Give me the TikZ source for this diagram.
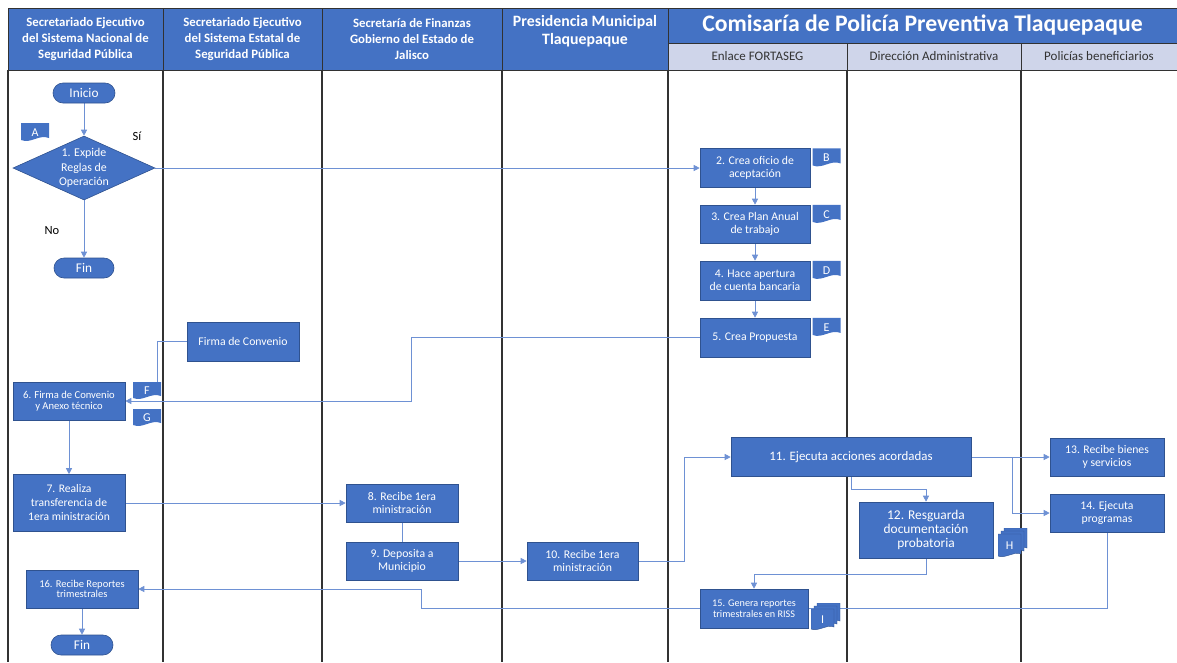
\documentclass[tikz,border=0pt]{standalone}
\usepackage{fontspec}
\setmainfont{Carlito}
\usetikzlibrary{shapes.geometric,arrows.meta,backgrounds,positioning}
\definecolor{flowblue}{RGB}{68,114,196}
\definecolor{flowedge}{RGB}{47,82,143}
\definecolor{linkblue}{RGB}{110,145,212}
\definecolor{subfill}{RGB}{207,213,234}
\definecolor{lanegray}{RGB}{50,50,50}
\tikzset{
  procbox/.style={draw=flowedge, fill=flowblue, text=white, align=center, inner sep=1pt, line width=0.6pt, font=\fontsize{11.75}{13}\selectfont},
  termbox/.style={procbox, rounded corners=10pt, minimum height=20pt, font=\fontsize{13.3}{14}\selectfont},
  decbox/.style={procbox, diamond, aspect=2.2, inner sep=0pt, minimum width=142pt, minimum height=64pt, font=\fontsize{11.9}{14.5}\selectfont},
  doctag/.style={inner sep=0pt, minimum width=28pt, minimum height=19pt, text=white, font=\fontsize{12}{12}\selectfont,
    path picture={\fill[flowblue] (path picture bounding box.north west) -- (path picture bounding box.north east)
      -- ([yshift=4pt]path picture bounding box.south east)
      .. controls ([xshift=-10pt,yshift=8pt]path picture bounding box.south east) and ([xshift=10pt,yshift=-2pt]path picture bounding box.south west)
      .. ([yshift=2pt]path picture bounding box.south west) -- cycle;}},
  multidoc/.style={inner sep=0pt, minimum width=29pt, minimum height=30pt,
    path picture={\foreach \o in {6,3,0} {\fill[flowblue, draw=flowedge, line width=0.4pt]
      ([xshift={\o pt}, yshift={(\o-6)*1pt}]path picture bounding box.north west)
      -- ([xshift={(\o-6)*1pt}, yshift={(\o-6)*1pt}]path picture bounding box.north east)
      -- ([xshift={(\o-6)*1pt}, yshift={(\o+4)*1pt}]path picture bounding box.south east)
      .. controls ([xshift={(\o-13)*1pt}, yshift={(\o+7)*1pt}]path picture bounding box.south east) and ([xshift={(\o+7)*1pt}, yshift={(\o-1)*1pt}]path picture bounding box.south west)
      .. ([xshift={\o pt}, yshift={(\o+2)*1pt}]path picture bounding box.south west) -- cycle;}}},
  mdlabel/.style={text=white, font=\fontsize{12}{12}\selectfont, xshift=-3pt, yshift=-3pt},
  lanehead/.style={draw=lanegray, line width=1pt, fill=flowblue, text=white, align=center, inner sep=0pt, font=\bfseries\fontsize{12.8}{16}\selectfont},
  subhead/.style={draw=lanegray, line width=1pt, fill=subfill, text=black!80, inner sep=0pt, font=\fontsize{13}{14}\selectfont},
  laneline/.style={draw=lanegray, line width=1.1pt},
  conn/.style={draw=linkblue, line width=0.7pt},
  arr/.style={conn, -{Triangle[length=6pt,width=6pt]}},
  answer/.style={font=\fontsize{12.5}{13}\selectfont}
}
\begin{document}
\begin{tikzpicture}[x=1pt,y=-1pt]
\newcommand{\bottomy}{662}
\useasboundingbox (0,0) rectangle (1177,662);

\node[lanehead, minimum width=155pt, minimum height=62pt] (hnac) at (85.5,39) {Secretariado Ejecutivo\\del Sistema Nacional de\\Seguridad Pública};
\node[lanehead, minimum width=159pt, minimum height=62pt] (hest) at (242.5,39) {Secretariado Ejecutivo\\del Sistema Estatal de\\Seguridad Pública};
\node[lanehead, minimum width=180pt, minimum height=62pt] (hfin) at (412,39) {Secretaría de Finanzas\\Gobierno del Estado de\\Jalisco};
\node[lanehead, minimum width=166pt, minimum height=62pt] (hpres) at (585,39) {};
\node[text=white, align=center, font=\bfseries\fontsize{15.8}{18.3}\selectfont] (hprestext) at (585,31) {Presidencia Municipal\\Tlaquepaque};
\node[lanehead, minimum width=509pt, minimum height=35pt, font=\bfseries\fontsize{23.7}{26}\selectfont] (hcom) at (922.5,25.5) {Comisaría de Policía Preventiva Tlaquepaque};
\node[subhead, minimum width=179pt, minimum height=27pt] (senl) at (757.5,56.5) {Enlace FORTASEG};
\node[subhead, minimum width=174pt, minimum height=27pt] (sdir) at (934,56.5) {Dirección Administrativa};
\node[subhead, minimum width=156pt, minimum height=27pt] (spol) at (1099,56.5) {Policías beneficiarios};

\node[termbox, minimum width=62pt] (ini) at (84,93) {Inicio};
\node[doctag] (tagA) at (35,132.5) {A};
\node[decbox] (expide) at (84,168) {1. Expide\\Reglas de\\Operación};
\node[answer] (si) at (137,136) {Sí};
\node[answer] (no) at (52,231) {No};
\node[termbox, minimum width=60pt] (fin1) at (84,268) {Fin};

\node[procbox, minimum width=110pt, minimum height=39pt] (crea) at (755,168) {2. Crea oficio de\\aceptación};
\node[doctag, anchor=north west] (tagB) at ([xshift=2pt]crea.north east) {B};
\node[procbox, minimum width=110pt, minimum height=38pt] (plan) at (755,224) {3. Crea Plan Anual\\de trabajo};
\node[doctag, anchor=north west] (tagC) at ([xshift=2pt]plan.north east) {C};
\node[procbox, minimum width=110pt, minimum height=39pt] (cuenta) at (755,280.5) {4. Hace apertura\\de cuenta bancaria};
\node[doctag, anchor=north west] (tagD) at ([xshift=2pt]cuenta.north east) {D};
\node[procbox, minimum width=110pt, minimum height=39pt] (prop) at (755,337.5) {5. Crea Propuesta};
\node[doctag, anchor=north west] (tagE) at ([xshift=2pt]prop.north east) {E};

\node[procbox, minimum width=112pt, minimum height=39pt] (firma) at (243,341.5) {Firma de Convenio};
\node[procbox, minimum width=112pt, minimum height=38pt, font=\fontsize{10.6}{11}\selectfont] (conv) at (69,401) {6. Firma de Convenio\\y Anexo técnico};
\node[doctag, minimum height=18pt] (tagF) at (147,391) {F};
\node[doctag, minimum height=18pt] (tagG) at (147,418) {G};
\node[procbox, minimum width=112pt, minimum height=57pt, font=\fontsize{11.6}{14}\selectfont] (transf) at (69,503) {7. Realiza\\transferencia de\\1era ministración};
\node[procbox, minimum width=112pt, minimum height=38pt] (recibe) at (402,503) {8. Recibe 1era\\ministración};
\node[procbox, minimum width=112pt, minimum height=38pt] (deposita) at (402,561) {9. Deposita a\\Municipio};
\node[procbox, minimum width=111pt, minimum height=38pt] (recmun) at (582.5,561) {10. Recibe 1era\\ministración};

\node[procbox, minimum width=240pt, minimum height=39pt, font=\fontsize{12.9}{14}\selectfont] (ejecuta) at (851,457) {11. Ejecuta acciones acordadas};
\node[procbox, minimum width=114pt, minimum height=38pt, font=\fontsize{11.7}{13.3}\selectfont] (bienes) at (1107,457) {13. Recibe bienes\\y servicios};
\node[procbox, minimum width=114pt, minimum height=38pt, font=\fontsize{11.7}{13.3}\selectfont] (programas) at (1107,513) {14. Ejecuta\\programas};
\node[procbox, minimum width=134pt, minimum height=56pt, font=\fontsize{13.4}{14}\selectfont] (resguarda) at (926,530) {12. Resguarda\\documentación\\probatoria};
\node[multidoc, label={[mdlabel]center:H}] (tagH) at (1012.5,543) {};
\node[procbox, minimum width=108pt, minimum height=39pt, font=\fontsize{10.2}{10.5}\selectfont] (reportes) at (754,608.5) {15. Genera reportes\\trimestrales en RISS};
\node[multidoc, minimum height=28pt, label={[mdlabel]center:I}] (tagI) at (825.5,617) {};
\node[procbox, minimum width=112pt, minimum height=38pt, font=\fontsize{10.5}{10.5}\selectfont] (recrep) at (82,589) {16. Recibe Reportes\\trimestrales};
\node[termbox, minimum width=62pt] (fin2) at (82,645) {Fin};

\begin{scope}[on background layer]
\foreach \x in {8,163,322,502,668,847,1021}
  \draw[laneline] (\x,70) -- (\x,\bottomy);
\draw[arr] (ini) -- (expide);
\draw[arr] (expide.east) -- (crea.west);
\draw[arr] (expide) -- (fin1);
\draw[arr] (crea) -- (plan);
\draw[arr] (plan) -- (cuenta);
\draw[arr] (cuenta) -- (prop);
\draw[arr] (prop.west) -- ++(-288,0) |- (conv.east);
\draw[conn] (firma.west) -| ([xshift=10pt]tagF.north);
\draw[arr] (conv) -- (transf);
\draw[arr] (transf) -- (recibe);
\draw[conn] (recibe) -- (deposita);
\draw[arr] (deposita) -- (recmun);
\draw[arr] (recmun.east) -- ++(46,0) |- (ejecuta.west);
\draw[arr] (ejecuta) -- (bienes);
\draw[arr] (ejecuta.east) -- ++(41,0) |- (programas.west);
\draw[arr] (ejecuta.south) -- ++(0,13) -| (resguarda.north);
\draw[arr] (resguarda.south) -- ++(0,16) -| (reportes.north);
\draw[conn] (programas.south) |- (reportes.east);
\draw[arr] (reportes.west) -- ++(-278,0) |- (recrep.east);
\draw[arr] (recrep) -- (fin2);
\end{scope}
\end{tikzpicture}
\end{document}
